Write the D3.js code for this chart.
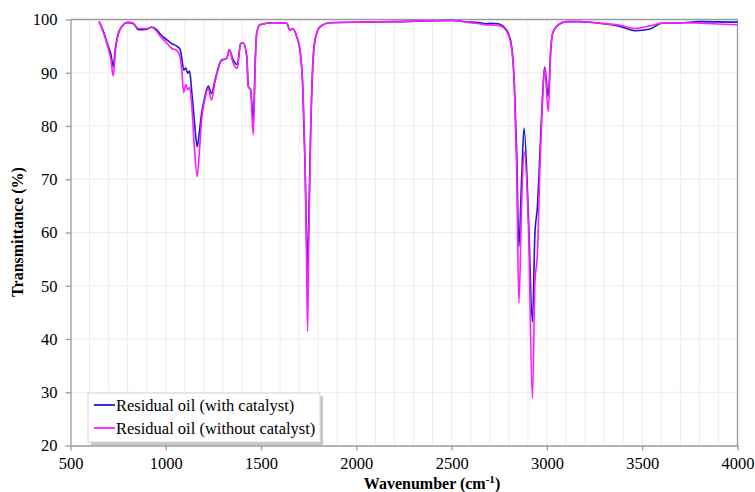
<!DOCTYPE html>
<html><head><meta charset="utf-8">
<script src="https://cdn.jsdelivr.net/npm/d3@7/dist/d3.min.js"></script>
<style>body{margin:0;background:#fff}svg{display:block}svg text{font-family:"Liberation Serif","Times New Roman","DejaVu Serif",serif !important}</style>
</head><body>
<script>
const wavenumber = [650,670,698,712,724,735,748,765,800,830,856,900,926,952,975,1005,1030,1057,1075,1085,1094,1105,1115,1125,1135,1150,1165,1175,1188,1205,1223,1240,1258,1293,1320,1333,1354,1375,1393,1407,1425,1433,1445,1459,1470,1477,1494,1564,1634,1652,1666,1687,1704,1718,1731,1738,1744,1750,1760,1771,1783,1809,1862,2020,2200,2500,2600,2649,2684,2701,2745,2771,2797,2815,2829,2841,2853,2867,2880,2903,2924,2937,2950,2964,2976,2988,3007,3020,3030,3051,3104,3174,3278,3383,3462,3541,3602,3716,3803,4000];
const withCatalyst = [99.6,98.0,95.0,93.5,91.1,94.5,97.0,98.5,99.4,99.2,98.1,98.2,98.6,98.1,97.1,96.2,95.5,95.0,94.4,92.5,90.5,90.9,89.9,90.3,87.0,81.0,76.1,78.5,82.4,85.5,87.5,86.1,88.6,92.4,92.7,94.3,92.4,91.5,95.5,95.6,93.0,87.4,86.8,81.1,93.0,97.4,99.0,99.4,99.3,98.0,98.3,96.8,94.3,88.0,72.4,60.0,52.3,62.0,78.7,91.1,96.1,98.6,99.4,99.5,99.6,99.8,99.5,99.4,99.2,99.3,99.2,98.7,97.4,94.9,88.0,75.5,57.3,70.0,79.6,63.0,43.2,59.8,64.8,75.5,84.9,91.1,85.5,94.3,97.4,98.7,99.6,99.6,99.3,98.7,97.9,98.2,99.3,99.4,99.6,99.5];
const withoutCatalyst = [99.6,97.8,94.6,92.5,89.4,93.8,96.8,98.4,99.5,99.3,98.3,98.3,98.5,97.8,96.7,95.6,94.6,94.2,93.0,90.0,86.3,87.8,86.8,87.2,84.5,76.0,70.5,74.5,81.1,85.0,87.0,84.9,88.2,92.3,92.7,94.3,91.8,90.8,95.5,95.6,93.0,87.4,86.8,78.3,92.0,97.4,99.0,99.4,99.3,98.0,98.3,96.8,94.3,88.0,72.4,57.0,41.4,58.0,78.7,91.1,96.1,98.6,99.4,99.5,99.6,99.8,99.4,99.2,99.0,99.0,98.9,98.5,97.2,94.5,87.5,72.0,46.7,65.0,75.2,61.3,28.9,50.5,56.0,73.0,84.0,90.9,82.7,94.3,97.4,98.7,99.6,99.6,99.3,98.9,98.3,98.8,99.3,99.4,99.3,99.0];
const seriesNames = ["Residual oil (with catalyst)","Residual oil (without catalyst)"];
const seriesColors = ["#1a1acc","#ff1aff"];
const xTicks = [500,1000,1500,2000,2500,3000,3500,4000];
const yTicks = [20,30,40,50,60,70,80,90,100];

const W=755,H=492;
const FONT='"Liberation Serif","Times New Roman","DejaVu Serif",serif';
const svg=d3.select("body").append("svg").attr("width",W).attr("height",H).style("font-family",FONT);
const x=d3.scaleLinear().domain([500,4000]).range([70.5,737.5]);
const y=d3.scaleLinear().domain([20,100]).range([445.5,19.5]);

// gridlines
const g=svg.append("g");
g.selectAll("line.vg").data(d3.range(600,4000,100)).join("line")
 .attr("x1",d=>x(d)).attr("x2",d=>x(d)).attr("y1",y(20)).attr("y2",y(100))
 .attr("stroke","#ececec").attr("stroke-width",1);
g.selectAll("line.hg").data(yTicks.slice(1,-1)).join("line")
 .attr("x1",x(500)).attr("x2",x(4000)).attr("y1",d=>y(d)).attr("y2",d=>y(d))
 .attr("stroke","#ececec").attr("stroke-width",1);
svg.append("line").attr("x1",x(500)).attr("x2",x(4000)).attr("y1",y(100)).attr("y2",y(100)).attr("stroke","#9a9a9a").attr("stroke-width",1.3);
svg.append("line").attr("x1",x(4000)).attr("x2",x(4000)).attr("y1",y(100)).attr("y2",y(20)).attr("stroke","#9a9a9a").attr("stroke-width",1.3);

// axes
const xa=svg.append("g").attr("transform",`translate(0,${y(20)})`)
 .call(d3.axisBottom(x).tickValues(xTicks).tickFormat(d3.format("d")).tickSize(5).tickPadding(7).tickSizeOuter(0));
const ya=svg.append("g").attr("transform",`translate(${x(500)},0)`)
 .call(d3.axisLeft(y).tickValues(yTicks).tickFormat(d3.format("d")).tickSize(5).tickPadding(8).tickSizeOuter(0));
[xa,ya].forEach(a=>{
  a.attr("font-family",null);
  a.select(".domain").attr("stroke","#9a9a9a").attr("stroke-width",1.3);
  a.selectAll(".tick line").attr("stroke","#9a9a9a").attr("stroke-width",1.3);
  a.selectAll(".tick text").attr("font-size",16.5).attr("fill","#000").style("font-family",FONT);
});

// lines
const line=d3.line().x((d,i)=>x(wavenumber[i])).y(d=>y(d)).curve(d3.curveMonotoneX);
[withCatalyst,withoutCatalyst].forEach((s,k)=>{
  svg.append("path").datum(s).attr("d",line).attr("fill","none")
   .attr("stroke",seriesColors[k]).attr("stroke-width",1.6).attr("stroke-linejoin","round");
});

// titles
const xt=svg.append("text").attr("x",432).attr("y",489).attr("text-anchor","middle")
 .attr("font-size",16).attr("font-weight","bold").style("font-family",FONT);
xt.append("tspan").text("Wavenumber (cm");
xt.append("tspan").attr("dy",-6).attr("font-size",11).text("-1");
xt.append("tspan").attr("dy",6).text(")");
svg.append("text").attr("transform","translate(23,232) rotate(-90)").attr("text-anchor","middle")
 .attr("font-size",16).attr("font-weight","bold").style("font-family",FONT).text("Transmittance (%)");

// legend
const lg=svg.append("g");
lg.append("rect").attr("x",91).attr("y",396).attr("width",232).attr("height",49).attr("fill","#b8b8b8").attr("opacity",0.8);
lg.append("rect").attr("x",88).attr("y",393).attr("width",232).attr("height",49).attr("fill","#fff").attr("stroke","#d8d8d8");
seriesNames.forEach((n,i)=>{
  const yy=405+i*23;
  lg.append("line").attr("x1",94).attr("x2",115).attr("y1",yy).attr("y2",yy).attr("stroke",seriesColors[i]).attr("stroke-width",1.8);
  lg.append("text").attr("x",116).attr("y",yy+5.5).attr("font-size",16.5).style("font-family",FONT).text(n);
});
</script>
</body></html>
